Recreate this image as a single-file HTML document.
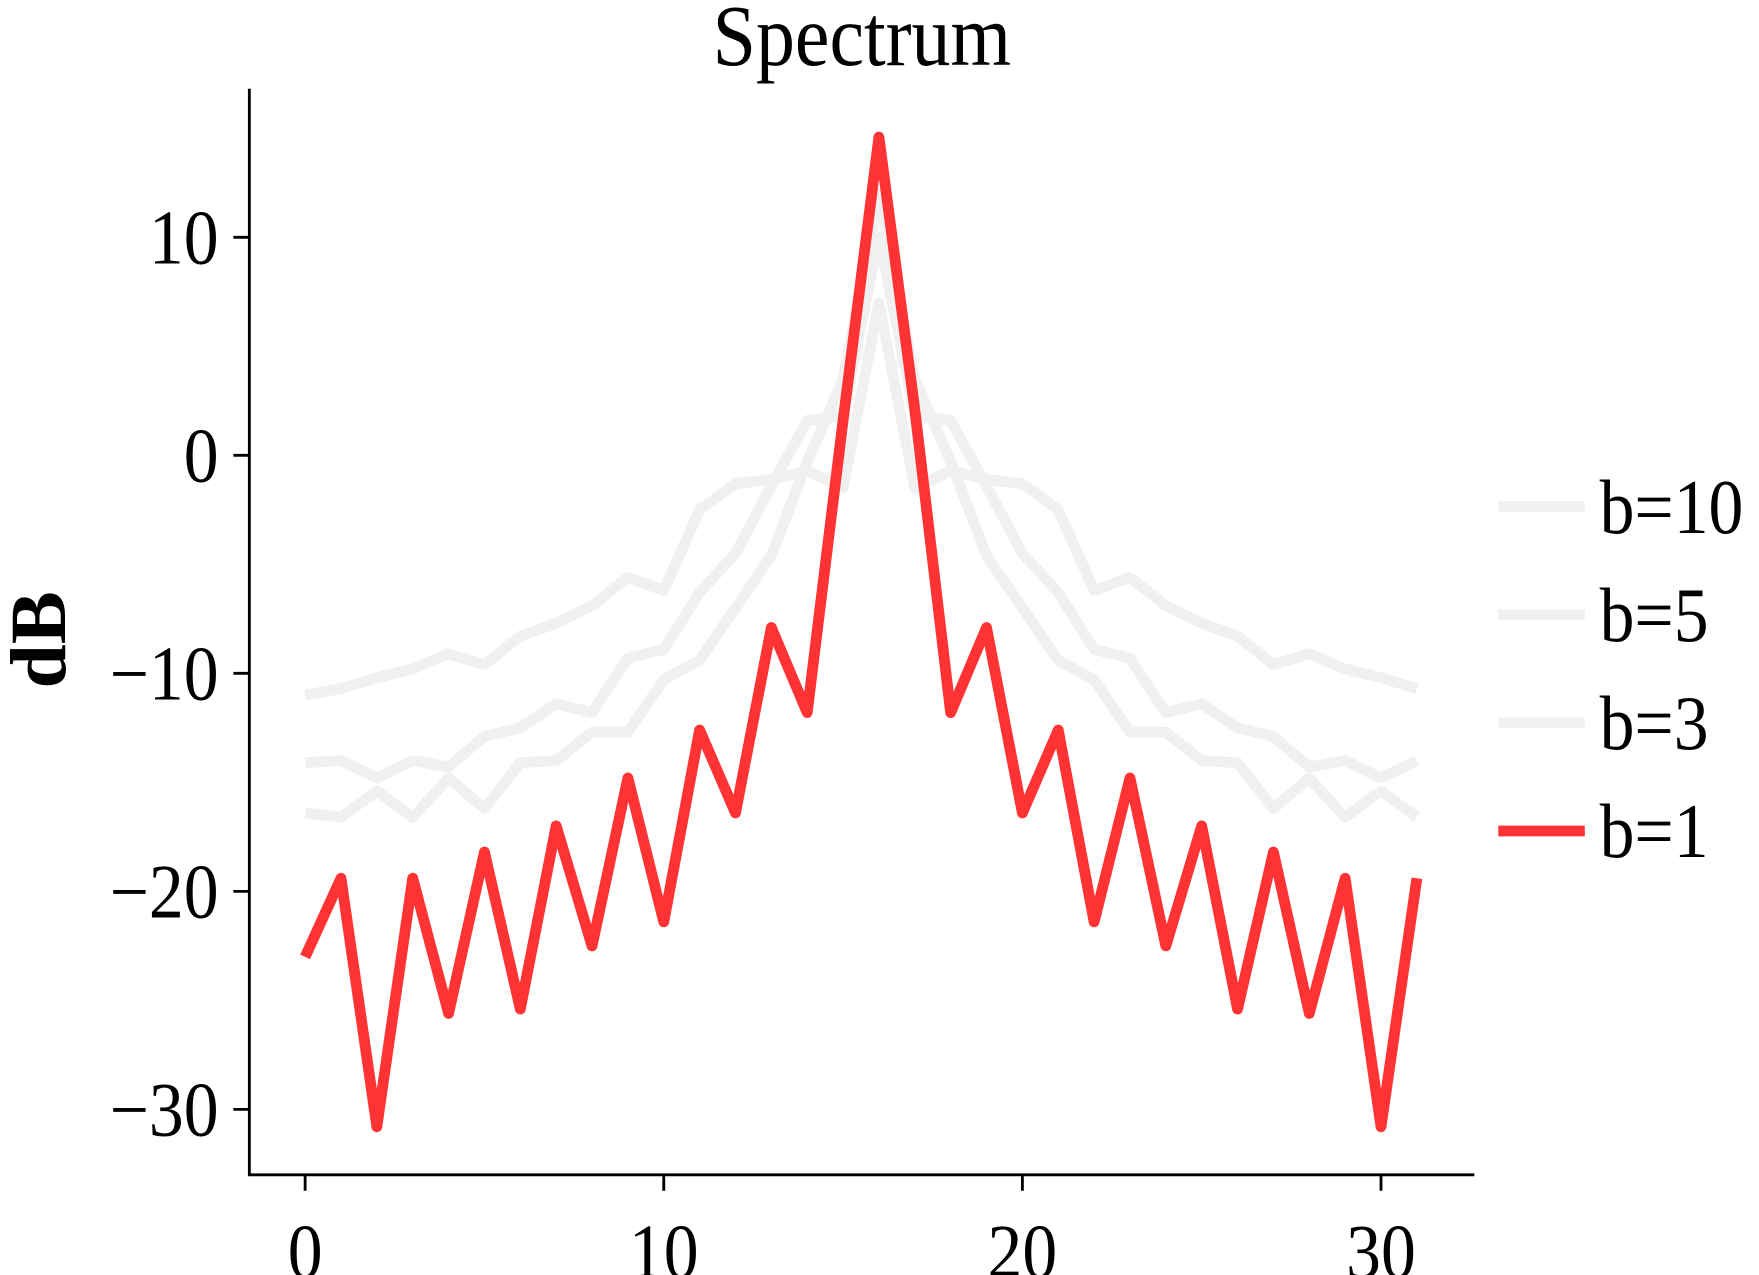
<!DOCTYPE html>
<html><head><meta charset="utf-8"><style>
html,body{margin:0;padding:0;background:#fff;}
svg{display:block;}
text{font-family:"Liberation Serif","DejaVu Serif",serif;fill:#000;}
.sqe{transform-box:fill-box;transform-origin:100% 50%;transform:scaleX(0.9);}
.sqm{transform-box:fill-box;transform-origin:50% 50%;transform:scaleX(0.9);}
.sqs{transform-box:fill-box;transform-origin:0% 50%;transform:scaleX(0.9);}
</style></head><body>
<svg id="chart" width="1759" height="1275" viewBox="0 0 1545 1120" preserveAspectRatio="none" xmlns="http://www.w3.org/2000/svg">
<text class="sqm" x="757" y="57" font-size="76" text-anchor="middle">Spectrum</text>
<text transform="translate(57,562) rotate(-90)" font-size="70" font-weight="bold" text-anchor="middle">dB</text>
<g id="series"></g>
<line x1="219" y1="78" x2="219" y2="1033" stroke="#000" stroke-width="2.5"/>
<line x1="218" y1="1032" x2="1295" y2="1032" stroke="#000" stroke-width="2.5"/>
<g id="ticks"></g>
<g id="legend"></g>
</svg>
<script>
const xTicks = [0, 10, 20, 30];
const yTicks = [10, 0, -10, -20, -30];
const seriesNames = ["b=10", "b=5", "b=3", "b=1"];
const b10 = [-11,-10.7,-10.2,-9.8,-9.1,-9.6,-8.3,-7.7,-6.9,-5.6,-6.2,-2.5,-1.3,-1.1,-0.7,-1.5,7,-1.5,-0.7,-1.1,-1.3,-2.5,-6.2,-5.6,-6.9,-7.7,-8.3,-9.6,-9.1,-9.8,-10.2,-10.7];
const b5 = [-14.1,-14,-14.8,-14,-14.3,-12.9,-12.5,-11.4,-11.8,-9.3,-8.9,-6.3,-4.5,-1.4,1.6,1.8,10,1.8,1.6,-1.4,-4.5,-6.3,-8.9,-9.3,-11.8,-11.4,-12.5,-12.9,-14.3,-14,-14.8,-14];
const b3 = [-16.4,-16.6,-15.4,-16.6,-14.8,-16.2,-14.1,-14,-12.7,-12.7,-10.3,-9.4,-7,-4.6,-0.3,3.5,12,3.5,-0.3,-4.6,-7,-9.4,-10.3,-12.7,-12.7,-14,-14.1,-16.2,-14.8,-16.6,-15.4,-16.6];
const b1 = [-23,-19.4,-30.8,-19.4,-25.6,-18.2,-25.4,-17,-22.5,-14.8,-21.4,-12.6,-16.4,-7.9,-11.8,1.6,14.6,2.1,-11.8,-7.9,-16.4,-12.6,-21.4,-14.8,-22.5,-17,-25.4,-18.2,-25.6,-19.4,-30.8,-19.4];

const NS = "http://www.w3.org/2000/svg";
const xs = v => 268 + v * 31.5;
const ys = v => 400 - v * 19.15;
function mk(tag, attrs, parent){ const e=document.createElementNS(NS,tag); for(const k in attrs) e.setAttribute(k,attrs[k]); parent.appendChild(e); return e; }

const seriesG = document.getElementById('series');
const allSeries = [b10, b5, b3, b1];
const colors = ["#f0f0f0","#f0f0f0","#f0f0f0","#ff3333"];
allSeries.forEach((arr,i)=>{
  const pts = arr.map((v,k)=>xs(k).toFixed(1)+","+ys(v).toFixed(1)).join(" ");
  const p = mk('polyline',{points:pts,fill:"none",stroke:colors[i],"stroke-width":"9.5","stroke-linejoin":"round"},seriesG);
  
  
});

const tg = document.getElementById('ticks');
xTicks.forEach(t=>{
  const l = mk('line',{x1:xs(t),x2:xs(t),y1:1032,y2:1046,stroke:"#000","stroke-width":"2.5"},tg);
  
  
  const tx = mk('text',{x:xs(t),y:1122,"font-size":"68","text-anchor":"middle","class":"sqm"},tg);
  tx.textContent = String(t);
  
  
});
yTicks.forEach(t=>{
  const l = mk('line',{x1:205,x2:219,y1:ys(t),y2:ys(t),stroke:"#000","stroke-width":"2.5"},tg);
  
  
  const tx = mk('text',{x:192,y:ys(t)+23,"font-size":"68","text-anchor":"end","class":"sqe"},tg);
  tx.textContent = t<0 ? "\u2212"+Math.abs(t) : String(t);
  
  
});

const lg = document.getElementById('legend');
seriesNames.forEach((n,i)=>{
  const y = 445 + i*95;
  const l = mk('line',{x1:1316,x2:1392,y1:y,y2:y,stroke:colors[i],"stroke-width":"9.5"},lg);
  
  
  const tx = mk('text',{x:1405,y:y+23,"font-size":"68","class":"sqs"},lg);
  tx.textContent = n;
  
  
});
</script>
</body></html>
